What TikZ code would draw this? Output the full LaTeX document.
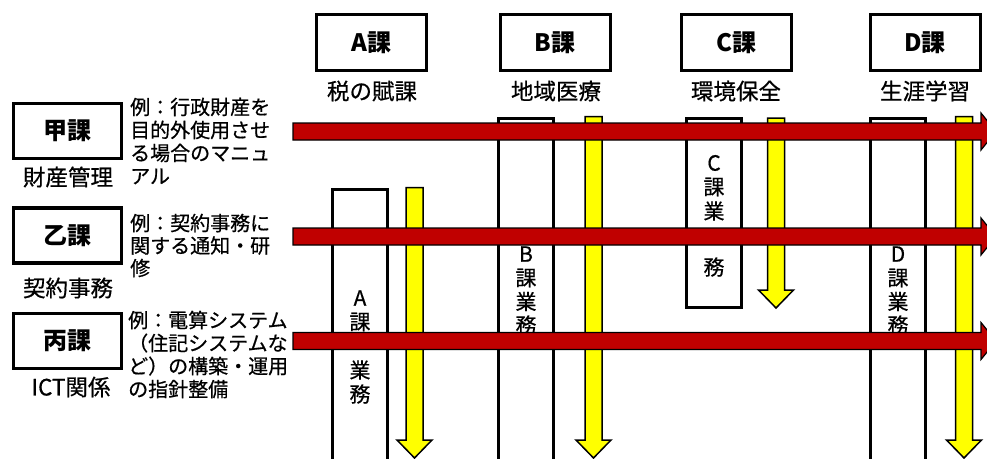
\documentclass[tikz,border=0pt]{standalone}
\usepackage{fontspec}
\setmainfont{Noto Sans CJK JP}
\newfontfamily\medfont{Noto Sans CJK JP}[FakeBold=0.6]
\usetikzlibrary{calc}
\definecolor{arrred}{RGB}{192,0,0}
\definecolor{arryel}{RGB}{255,255,0}
\newcommand\hredarrow[2]{%
  \path[redarr] ($(#1)+(0,-8.5)$) -- ($(#2)+(-15,-8.5)$) -- ($(#2)+(-15,-18.5)$) -- (#2)
    -- ($(#2)+(-15,18.5)$) -- ($(#2)+(-15,8.5)$) -- ($(#1)+(0,8.5)$) -- cycle;}
\newcommand\vyelarrow[2]{%
  \path[yelarr] ($(#1)+(-8.5,0)$) -- ($(#2)+(-8.5,-18)$) -- ($(#2)+(-17.5,-18)$) -- (#2)
    -- ($(#2)+(17.5,-18)$) -- ($(#2)+(8.5,-18)$) -- ($(#1)+(8.5,0)$) -- cycle;}
\tikzset{
  hbox/.style={draw, line width=3pt, minimum width=110pt, minimum height=56pt,
    font=\fontsize{24}{28}\selectfont\bfseries},
  lbox/.style={draw, line width=3.5pt, minimum width=108pt, minimum height=55pt,
    font=\fontsize{24}{28}\selectfont\bfseries},
  lbl/.style={font=\medfont\fontsize{22.5}{26}\selectfont},
  note/.style={font=\medfont\fontsize{20}{23}\selectfont, align=left, anchor=west},
  colbox/.style={draw, line width=3pt, fill=white, minimum width=55pt, anchor=north},
  vch/.style={font=\medfont\fontsize{21}{24}\selectfont},
  redarr/.style={fill=arrred, draw=black, line width=1.2pt},
  yelarr/.style={fill=arryel, draw=black, line width=1.5pt},
}
\begin{document}
\begin{tikzpicture}[x=1pt,y=-1pt, every node/.style={inner sep=0pt}]
\useasboundingbox (0,0) rectangle (987,458);
\clip (0,0) rectangle (987,458);
\fill[white] (0,0) rectangle (987,458);

% column boxes
\node[colbox, minimum height=283pt] (colA) at (360,187.5) {};
\node[colbox, minimum height=360pt] (colB) at (526,116.5) {};
\node[colbox, minimum height=189pt] (colC) at (714,116.5) {};
\node[colbox, minimum height=360pt] (colD) at (898,116.5) {};

% vertical texts
\foreach \c/\y [count=\i] in {A/298,課/322,業/370,務/394}
  \node[vch] (va\i) at (360,\y) {\c};
\foreach \c/\y [count=\i] in {B/254,課/278,業/301.5,務/325}
  \node[vch] (vb\i) at (526,\y) {\c};
\foreach \c/\y [count=\i] in {C/163,課/187,業/211,務/267}
  \node[vch] (vc\i) at (714,\y) {\c};
\foreach \c/\y [count=\i] in {D/254,課/278,業/301.5,務/325}
  \node[vch] (vd\i) at (898,\y) {\c};

% yellow arrows
\coordinate (yaS) at (414.5,187.5); \coordinate (yaE) at (414.5,458);
\coordinate (ybS) at (593.5,116.5); \coordinate (ybE) at (593.5,458);
\coordinate (ycS) at (776,118);     \coordinate (ycE) at (776,308);
\coordinate (ydS) at (964,116.5);   \coordinate (ydE) at (964,458);
\vyelarrow{yaS}{yaE}
\vyelarrow{ybS}{ybE}
\vyelarrow{ycS}{ycE}
\vyelarrow{ydS}{ydE}

% red arrows
\coordinate (r1S) at (293,131.5); \coordinate (r1E) at (996,131.5);
\coordinate (r2S) at (293,236.5); \coordinate (r2E) at (996,236.5);
\coordinate (r3S) at (293,341);   \coordinate (r3E) at (996,341);
\hredarrow{r1S}{r1E}
\hredarrow{r2S}{r2E}
\hredarrow{r3S}{r3E}

% top boxes
\node[hbox] (A) at (371.5,42.5) {A課};
\node[hbox] (B) at (555,42.5) {B課};
\node[hbox] (C) at (736.5,42.5) {C課};
\node[hbox] (D) at (925,42.5) {D課};
\node[lbl] (Al) at (372,91) {税の賦課};
\node[lbl] (Bl) at (556,91) {地域医療};
\node[lbl] (Cl) at (736,91) {環境保全};
\node[lbl] (Dl) at (925,91) {生涯学習};

% left boxes
\node[lbox] (K) at (67.5,131) {甲課};
\node[lbox] (O) at (67.5,235.5) {乙課};
\node[lbox] (H) at (67.5,341) {丙課};
\node[lbl] (Kl) at (68,177) {財産管理};
\node[lbl] (Ol) at (68,288) {契約事務};
\node[lbl] (Hl) at (71,387) {ICT関係};

% notes
\node[note] (Kn) at (130,141) {例：行政財産を\\目的外使用させ\\る場合のマニュ\\アル};
\node[note, font=\medfont\fontsize{20}{22.5}\selectfont] (On) at (130,245.5) {例：契約事務に\\関する通知・研\\修};
\node[note] (Hn) at (128,354.5) {例：電算システム\\（住記システムな\\ど）の構築・運用\\の指針整備};
\end{tikzpicture}
\end{document}
